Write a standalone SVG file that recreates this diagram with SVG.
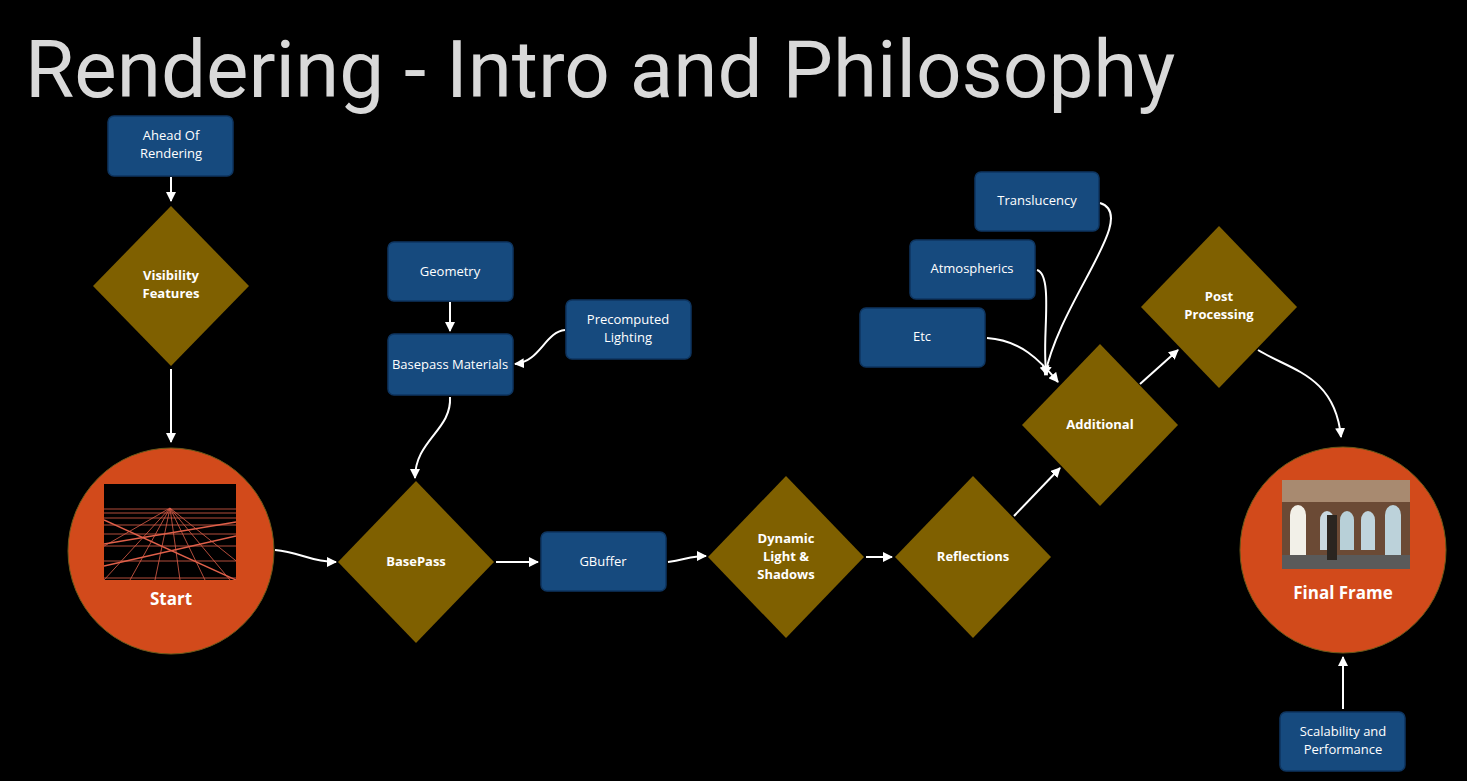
<svg xmlns="http://www.w3.org/2000/svg" width="1467" height="781" viewBox="0 0 1467 781">
<defs>
<marker id="ah" viewBox="0 0 10 10" refX="9" refY="5" markerWidth="5" markerHeight="5" orient="auto"><path d="M0,0 L10,5 L0,10 z" fill="#fff"/></marker>
<clipPath id="c1"><rect x="104" y="484" width="132" height="96"/></clipPath>
<clipPath id="c2"><rect x="1282" y="480" width="128" height="89"/></clipPath>
</defs>
<style>
.box{fill:#164a7e;stroke:#0e3560;stroke-width:1.5}
.dia{fill:#7f6000}
.cir{fill:#d24a1b;stroke:#6b5a1a;stroke-width:1}
.t{font-family:"Open Sans",sans-serif;font-size:13px;fill:#fff;text-anchor:middle}
.b{font-family:"Open Sans",sans-serif;font-size:13px;font-weight:bold;fill:#fff;text-anchor:middle}
.cb{font-family:"Open Sans",sans-serif;font-size:17px;font-weight:bold;fill:#fff;text-anchor:middle}
.con path{fill:none;stroke:#fff;stroke-width:2;marker-end:url(#ah)}
.g{stroke:#e0604a;stroke-width:0.8}
</style>
<rect width="1467" height="781" fill="#000"/>
<text x="25" y="97" font-family="Roboto,sans-serif" font-size="80" fill="#d9d9d9">Rendering - Intro and Philosophy</text>

<g class="con">
<path d="M171,177 L171,201"/>
<path d="M171,369 L171,442"/>
<path d="M450,302 L450,331"/>
<path d="M565,330 C545,332 540,362 515,364"/>
<path d="M450,397 C452,430 415,440 415,478"/>
<path d="M275,550 C300,552 310,562 336,562"/>
<path d="M496,562 L538,562"/>
<path d="M668,562 C685,560 690,556 706,556"/>
<path d="M866,557 L892,557"/>
<path d="M1014,516 L1060,468"/>
<path d="M1140,384 L1178,350"/>
<path d="M1100,203 C1140,215 1060,300 1045,375"/>
<path d="M1037,270 C1055,275 1040,350 1047,375"/>
<path d="M987,338 C1020,340 1040,360 1058,382"/>
<path d="M1258,350 C1290,370 1335,375 1341,437"/>
<path d="M1343,709 L1343,657"/>
</g>

<g id="ahead"><rect class="box" x="108" y="116" width="125" height="60" rx="6"/><text class="t" x="171" y="140">Ahead Of</text><text class="t" x="171" y="158">Rendering</text></g>
<g id="visibility"><polygon class="dia" points="171,206 249,286 171,366 93,286"/><text class="b" x="171" y="280">Visibility</text><text class="b" x="171" y="298">Features</text></g>
<g id="start"><circle class="cir" cx="171" cy="551" r="103"/>
<rect x="104" y="484" width="132" height="96" fill="#000"/>
<g clip-path="url(#c1)" class="g">
<line x1="104" y1="509" x2="236" y2="509"/><line x1="104" y1="513" x2="236" y2="513"/><line x1="104" y1="518" x2="236" y2="518"/><line x1="104" y1="525" x2="236" y2="525"/><line x1="104" y1="534" x2="236" y2="534"/><line x1="104" y1="546" x2="236" y2="546"/><line x1="104" y1="561" x2="236" y2="561"/><line x1="104" y1="578" x2="236" y2="578"/>
<line x1="104" y1="544" x2="236" y2="522" stroke-width="1.5"/><line x1="104" y1="566" x2="236" y2="536" stroke-width="1.5"/><line x1="104" y1="520" x2="236" y2="580" stroke-width="1.5"/>
<line x1="170" y1="508" x2="104" y2="580"/><line x1="170" y1="508" x2="130" y2="580"/><line x1="170" y1="508" x2="155" y2="580"/><line x1="170" y1="508" x2="180" y2="580"/><line x1="170" y1="508" x2="205" y2="580"/><line x1="170" y1="508" x2="230" y2="580"/><line x1="170" y1="508" x2="260" y2="580"/><line x1="170" y1="508" x2="80" y2="560"/>
</g>
<text class="cb" x="171" y="605">Start</text></g>

<g id="geometry"><rect class="box" x="388" y="242" width="125" height="59" rx="6"/><text class="t" x="450" y="276">Geometry</text></g>
<g id="basepassmat"><rect class="box" x="388" y="334" width="125" height="61" rx="6"/><text class="t" x="450" y="369">Basepass Materials</text></g>
<g id="precomputed"><rect class="box" x="566" y="300" width="125" height="59" rx="6"/><text class="t" x="628" y="324">Precomputed</text><text class="t" x="628" y="342">Lighting</text></g>
<g id="basepass"><polygon class="dia" points="416,481 494,562 416,643 338,562"/><text class="b" x="416" y="566">BasePass</text></g>
<g id="gbuffer"><rect class="box" x="541" y="532" width="125" height="59" rx="6"/><text class="t" x="603" y="566">GBuffer</text></g>
<g id="dynamic"><polygon class="dia" points="786,476 864,557 786,638 708,557"/><text class="b" x="786" y="543">Dynamic</text><text class="b" x="786" y="561">Light &amp;</text><text class="b" x="786" y="579">Shadows</text></g>
<g id="reflections"><polygon class="dia" points="973,476 1051,557 973,638 895,557"/><text class="b" x="973" y="561">Reflections</text></g>
<g id="additional"><polygon class="dia" points="1100,344 1178,425 1100,506 1022,425"/><text class="b" x="1100" y="429">Additional</text></g>
<g id="post"><polygon class="dia" points="1219,226 1297,307 1219,388 1141,307"/><text class="b" x="1219" y="301">Post</text><text class="b" x="1219" y="319">Processing</text></g>
<g id="translucency"><rect class="box" x="975" y="172" width="124" height="59" rx="6"/><text class="t" x="1037" y="205">Translucency</text></g>
<g id="atmospherics"><rect class="box" x="910" y="240" width="125" height="59" rx="6"/><text class="t" x="972" y="273">Atmospherics</text></g>
<g id="etc"><rect class="box" x="860" y="308" width="125" height="59" rx="6"/><text class="t" x="922" y="341">Etc</text></g>
<g id="final"><circle class="cir" cx="1343" cy="550" r="103"/>
<g clip-path="url(#c2)">
<rect x="1282" y="480" width="128" height="89" fill="#6b4a35"/>
<rect x="1282" y="480" width="128" height="22" fill="#a88a70"/>
<path d="M1290,560 V515 a8,10 0 0 1 16,0 V560 z" fill="#f2f0e8"/>
<path d="M1320,550 V520 a7,9 0 0 1 14,0 V550 z" fill="#c8d8e0"/>
<path d="M1340,550 V520 a7,9 0 0 1 14,0 V550 z" fill="#b8d0d8"/>
<path d="M1361,550 V520 a7,9 0 0 1 14,0 V550 z" fill="#c0d4dc"/>
<path d="M1385,555 V515 a8,10 0 0 1 16,0 V555 z" fill="#bcd2da"/>
<rect x="1282" y="555" width="128" height="14" fill="#5a5a5a"/>
<rect x="1327" y="515" width="10" height="45" fill="#2a2520"/>
</g>
<text class="cb" x="1343" y="599">Final Frame</text></g>
<g id="scalability"><rect class="box" x="1280" y="712" width="125" height="59" rx="6"/><text class="t" x="1343" y="736">Scalability and</text><text class="t" x="1343" y="754">Performance</text></g>
</svg>
